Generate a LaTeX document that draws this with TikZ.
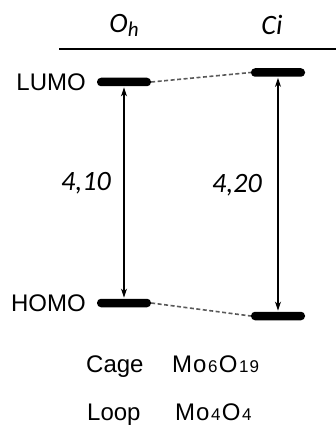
\documentclass[tikz,border=0pt]{standalone}
\usepackage{fontspec}
\setmainfont{Liberation Sans}
\newfontfamily\numfont{Carlito}
\usetikzlibrary{arrows.meta}
\begin{document}
\begin{tikzpicture}[x=1pt,y=-1pt,
  level/.style={rectangle,fill=black,draw=none,minimum width=54pt,minimum height=8.5pt,rounded corners=4pt,inner sep=0pt},
  link/.style={dash pattern=on 4pt off 2.5pt,line width=1.6pt,color=black!65},
  gap/.style={{Stealth[length=9pt,width=6pt]}-{Stealth[length=9pt,width=6pt]},line width=1.1pt},
  lbl/.style={inner sep=0pt,font=\fontsize{24}{26}\selectfont},
  val/.style={inner sep=0pt,font=\numfont\itshape\fontsize{28}{30}\selectfont},
  sym/.style={inner sep=0pt,font=\numfont\itshape\fontsize{28}{30}\selectfont}]
\useasboundingbox (0,0) rectangle (336,425);

% column headings
\node[sym,anchor=base] (oh) at (124,33) {O\raisebox{-4pt}{\fontsize{21}{21}\selectfont h}};
\node[sym,anchor=base] (ci) at (272,35) {Ci};
\coordinate (rl) at (59,49);
\coordinate (rr) at (336,49);
\draw[line width=1.4pt] (rl) -- (rr);

% energy levels
\node[level] (lumoA) at (124,82) {};
\node[level] (lumoB) at (278,72.5) {};
\node[level] (homoA) at (124,303) {};
\node[level] (homoB) at (278,316) {};

\node[lbl,anchor=east] (lumo) at (86,82) {LUMO};
\node[lbl,anchor=east] (homo) at (86,303) {HOMO};

% correlation lines
\draw[link] (lumoA.east) -- (lumoB.west);
\draw[link] (homoA.east) -- (homoB.west);

% gaps
\draw[gap] ([yshift=-1pt]lumoA.south) -- ([yshift=1pt]homoA.north);
\draw[gap] ([yshift=-1pt]lumoB.south) -- ([yshift=1pt]homoB.north);
\node[val] (gA) at (86,183) {4,10};
\node[val] (gB) at (237,185) {4,20};

% structures
\newcommand\dg[1]{\kern1.5pt{\fontsize{17}{17}\selectfont #1}\kern1.5pt}
\node[lbl,anchor=base west] (cage) at (86,372) {Cage};
\node[lbl,anchor=base west] (cagef) at (172,372) {M\kern1pt o\dg{6}O\dg{1\kern1pt 9}};
\node[lbl,anchor=base west] (loop) at (87,420) {Loop};
\node[lbl,anchor=base west] (loopf) at (175,420) {M\kern1pt o\dg{4}O\dg{4}};
\end{tikzpicture}
\end{document}
